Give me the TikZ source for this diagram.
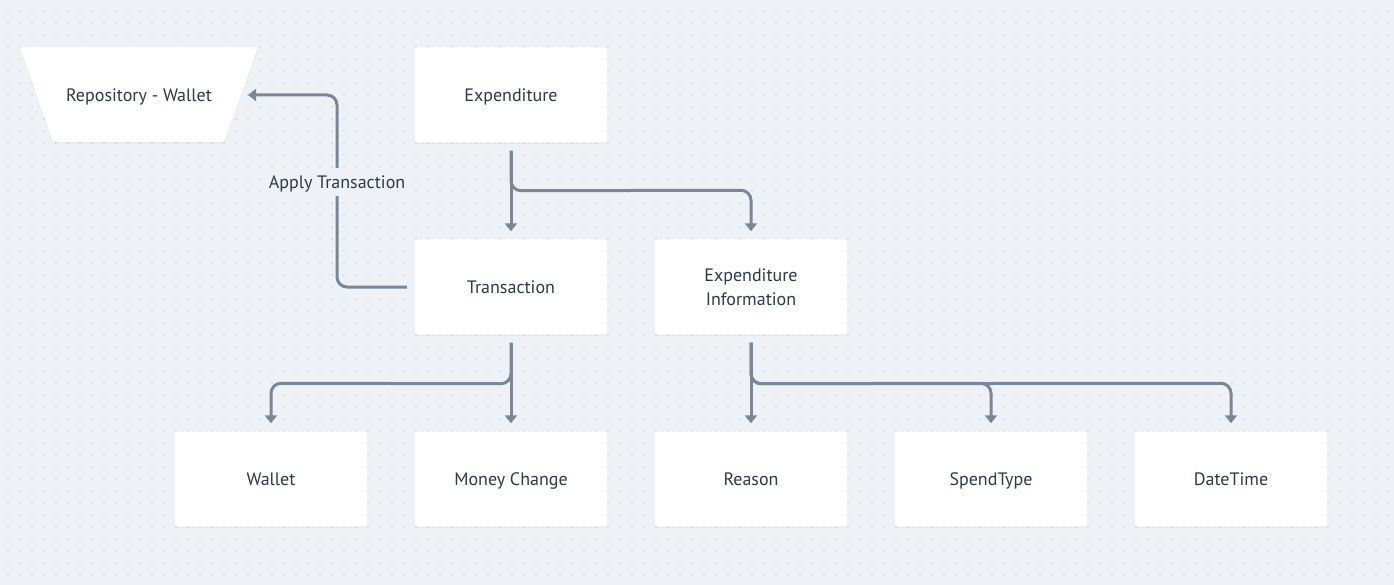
\documentclass[tikz,border=0pt]{standalone}
\usepackage{fontspec}
\setmainfont{PT Sans}
\usetikzlibrary{arrows.meta,shadows,calc}
\definecolor{bgc}{HTML}{EEF2F6}
\definecolor{dotc}{HTML}{C8CFD7}
\definecolor{linec}{HTML}{798896}
\definecolor{txtc}{HTML}{2D3A48}
\newcommand{\dfont}{\fontsize{18}{24}\selectfont}
\tikzset{
  box/.style={draw=none,fill=white,rounded corners=2pt,minimum width=192pt,minimum height=95pt,
    text=txtc,font=\dfont,align=center,
    drop shadow={opacity=0.07,shadow xshift=0pt,shadow yshift=-1.5pt}},
  onel/.style={text height=16pt,text depth=3.4pt},
  conn/.style={draw=linec,line width=3pt,rounded corners=10pt,-{Triangle[width=12pt,length=8pt]}},
  lbl/.style={fill=bgc,text=txtc,font=\dfont,inner sep=4pt,text height=16pt,text depth=3.4pt}
}
\begin{document}
\begin{tikzpicture}[x=1pt,y=-1pt]
\fill[bgc] (0,0) rectangle (1394,585);
\useasboundingbox (0,0) rectangle (1394,585);
\foreach \xx in {8,20,...,1394}{
  \foreach \yy in {11,23,...,585}{
    \fill[dotc] (\xx,\yy) circle (0.9pt);
  }
}
% trapezoid repository
\fill[white,drop shadow={opacity=0.07,shadow xshift=0pt,shadow yshift=-1.5pt}] (20,47) -- (258,47) -- (224,142) -- (53,142) -- cycle;
\node[text=txtc,font=\dfont,onel] (repo) at (139,95) {Repository - Wallet};
\coordinate (repoin) at (248,95);
% boxes
\node[box,onel] (exp) at (511,95) {Expenditure};
\node[box,onel] (trans) at (511,287) {Transaction};
\node[box] (info) at (751,287) {Expenditure\\Information};
\node[box,onel] (wallet) at (271,479) {Wallet};
\node[box,onel] (money) at (511,479) {Money Change};
\node[box,onel] (reason) at (751,479) {Reason};
\node[box,onel] (spend) at (991,479) {SpendType};
\node[box,onel] (date) at (1231,479) {DateTime};
% connectors
\draw[conn] ($(exp.south)+(0,8)$) -- ($(trans.north)+(0,-8)$);
\draw[conn] ($(exp.south)+(0,8)$) -- ($(exp.south)+(0,48)$) -- ($(info.north)+(0,-49)$) -- ($(info.north)+(0,-8)$);
\draw[conn] ($(trans.west)+(-8,0)$) -- (337,287) -- (337,95) -- (repoin);
\node[lbl] (apply) at (337,182) {Apply Transaction};
\draw[conn] ($(trans.south)+(0,8)$) -- ($(money.north)+(0,-8)$);
\draw[conn] ($(trans.south)+(0,8)$) -- ($(trans.south)+(0,49)$) -- ($(wallet.north)+(0,-48)$) -- ($(wallet.north)+(0,-8)$);
\draw[conn] ($(info.south)+(0,8)$) -- ($(reason.north)+(0,-8)$);
\draw[conn] ($(info.south)+(0,8)$) -- ($(info.south)+(0,49)$) -- ($(spend.north)+(0,-48)$) -- ($(spend.north)+(0,-8)$);
\draw[conn] ($(info.south)+(0,8)$) -- ($(info.south)+(0,49)$) -- ($(date.north)+(0,-48)$) -- ($(date.north)+(0,-8)$);
\end{tikzpicture}
\end{document}
